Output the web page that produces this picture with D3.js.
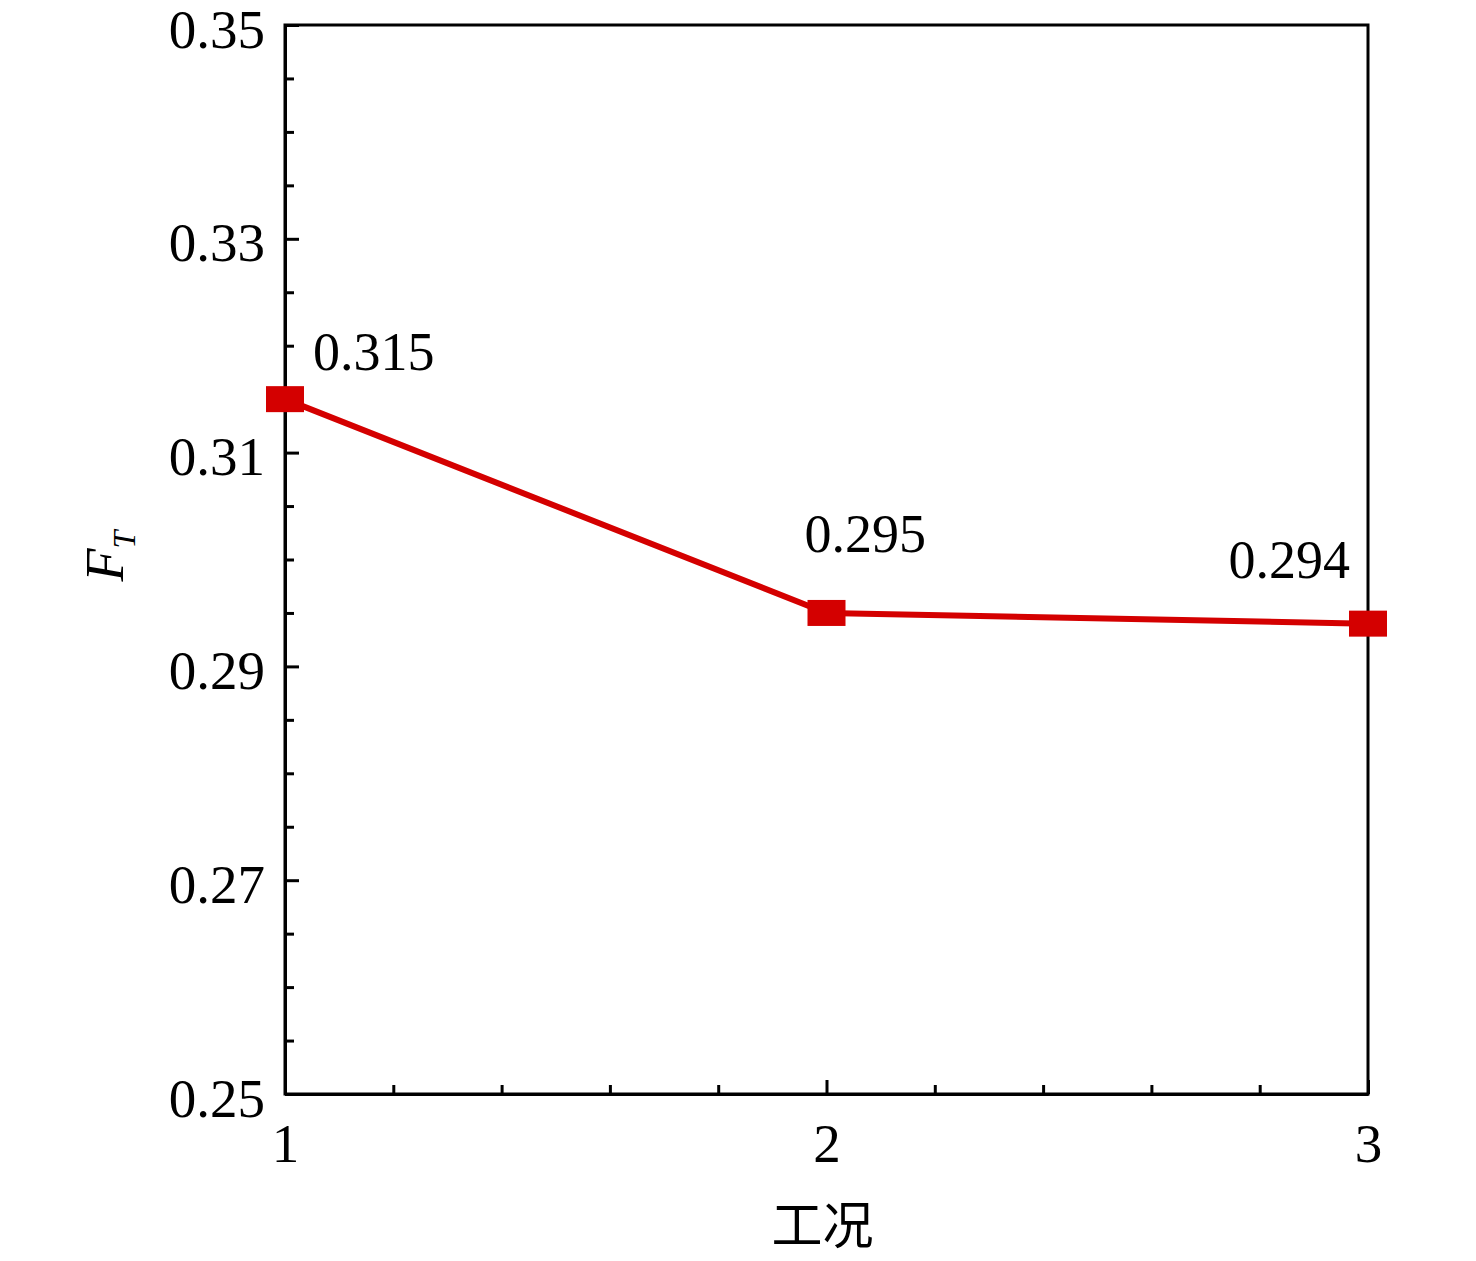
<!DOCTYPE html>
<html>
<head>
<meta charset="UTF-8">
<title>F_T</title>
<script src="https://cdn.jsdelivr.net/npm/d3@7"></script>
<style>
    html, body { margin: 0; padding: 0; background: #fff; }
    svg text { font-family: "Liberation Serif", "Times New Roman", serif; fill: #000; }
</style>
</head>
<body>
<div id="chart"></div>
<script>
    // data
    const cases = [1, 2, 3];
    const ftValues = [0.315, 0.295, 0.294];
    const pointLabels = ["0.315", "0.295", "0.294"];
    const xTicks = [1, 2, 3];
    const yTicks = [0.25, 0.27, 0.29, 0.31, 0.33, 0.35];

    const width = 1476, height = 1261;
    const margin = {left: 285, right: 108, top: 25, bottom: 167};
    const red = "#d40000";

    const svg = d3.select("#chart").append("svg")
        .attr("width", width)
        .attr("height", height);

    const x = d3.scaleLinear().domain([1, 3]).range([margin.left, width - margin.right]);
    const y = d3.scaleLinear().domain([0.25, 0.35]).range([height - margin.bottom, margin.top]);

    const minorX = d3.range(1, 3.0001, 0.2).filter(v => !xTicks.some(t => Math.abs(t - v) < 1e-6));
    const minorY = d3.range(0.25, 0.35001, 0.005).filter(v => !yTicks.some(t => Math.abs(t - v) < 1e-6));

    // minor ticks first (no labels)
    svg.append("g")
        .attr("transform", `translate(0,${y.range()[0]})`)
        .call(d3.axisBottom(x).tickValues(minorX).tickSize(-9).tickFormat(""))
        .call(g => g.select(".domain").remove());
    svg.append("g")
        .attr("transform", `translate(${x.range()[0]},0)`)
        .call(d3.axisLeft(y).tickValues(minorY).tickSize(-9).tickFormat(""))
        .call(g => g.select(".domain").remove());

    // major ticks, pointing inward
    svg.append("g")
        .attr("transform", `translate(0,${y.range()[0]})`)
        .call(d3.axisBottom(x).tickValues(xTicks).tickSizeInner(-14).tickSizeOuter(0)
            .tickPadding(29).tickFormat(d3.format("d")));
    const yAxis = svg.append("g")
        .attr("transform", `translate(${x.range()[0]},0)`)
        .call(d3.axisLeft(y).tickValues(yTicks).tickSizeInner(-14).tickSizeOuter(0)
            .tickPadding(20).tickFormat(d3.format(".2f")));

    svg.selectAll(".tick line").attr("stroke", "#000").attr("stroke-width", 3);
    svg.selectAll(".domain").attr("stroke", "#000").attr("stroke-width", 3);
    svg.selectAll(".tick text").style("font-size", "55px");
    yAxis.selectAll(".tick text").attr("dy", "0.4em");

    // frame top and right
    svg.append("rect")
        .attr("x", x.range()[0]).attr("y", y.range()[1])
        .attr("width", x.range()[1] - x.range()[0])
        .attr("height", y.range()[0] - y.range()[1])
        .attr("fill", "none").attr("stroke", "#000").attr("stroke-width", 3);

    // series line
    const pts = cases.map((c, i) => ({x: c, y: ftValues[i], label: pointLabels[i]}));
    svg.append("path")
        .datum(pts)
        .attr("fill", "none")
        .attr("stroke", red)
        .attr("stroke-width", 6)
        .attr("d", d3.line().x(d => x(d.x)).y(d => y(d.y)));

    // square markers (a bit wider than tall, as in the picture)
    const mw = 38, mh = 26;
    svg.selectAll("rect.marker")
        .data(pts)
        .enter()
        .append("rect")
        .attr("class", "marker")
        .attr("x", d => x(d.x) - mw / 2)
        .attr("y", d => y(d.y) - mh / 2)
        .attr("width", mw)
        .attr("height", mh)
        .attr("fill", red);

    // value labels, offsets in pixels from each point
    const labelPos = [
        {dx: 28, dy: -29, anchor: "start"},
        {dx: -22, dy: -61, anchor: "start"},
        {dx: -18, dy: -46, anchor: "end"}
    ];
    svg.selectAll("text.value")
        .data(pts)
        .enter()
        .append("text")
        .attr("class", "value")
        .attr("x", (d, i) => x(d.x) + labelPos[i].dx)
        .attr("y", (d, i) => y(d.y) + labelPos[i].dy)
        .attr("text-anchor", (d, i) => labelPos[i].anchor)
        .style("font-size", "54px")
        .text(d => d.label);

    // axis titles
    svg.append("text")
        .attr("x", (x.range()[0] + x.range()[1]) / 2 - 4)
        .attr("y", 1244)
        .attr("text-anchor", "middle")
        .style("font-family", "'Noto Sans CJK SC', sans-serif")
        .style("font-size", "51px")
        .text("工况");

    const yTitle = svg.append("text")
        .attr("transform", "translate(123,556) rotate(-90)")
        .attr("text-anchor", "middle")
        .style("font-size", "54px")
        .style("font-style", "italic");
    yTitle.append("tspan").text("F");
    yTitle.append("tspan").attr("dy", 12).style("font-size", "32px").text("T");
</script>
</body>
</html>
